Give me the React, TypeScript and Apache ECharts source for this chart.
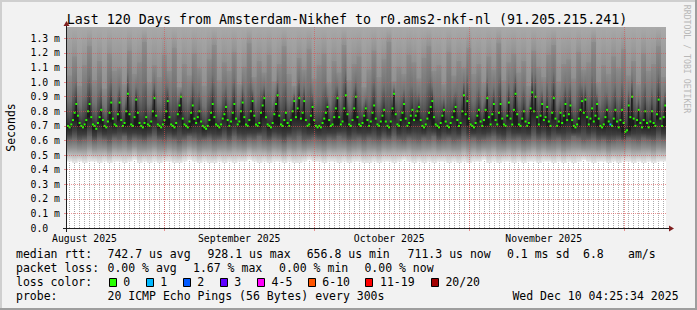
import React, { useEffect, useRef } from "react";
import * as echarts from "echarts";

const MONO = '"DejaVu Sans Mono", "Liberation Mono", monospace';

const titleText = "Last 120 Days from Amsterdam-Nikhef to r0.ams2-nkf-nl (91.205.215.241)";
const spanDays = 120;
const colsPerDay = 3; // 8h columns
const yMaxMs = 1.378;

// median rtt (ms), one value per 8h column (360 columns)
const medianMs = [
  0.70,0.69,0.71,0.74,0.79,0.85,0.77,0.72,0.70,0.69, 0.71,0.74,0.80,0.85,0.76,0.71,0.70,0.68,0.72,0.76, 0.81,0.74,0.70,0.69,0.73,0.79,0.86,0.75,0.71,0.70,
  0.78,0.86,0.74,0.70,0.72,0.80,0.92,0.78,0.71,0.70, 0.76,0.88,0.79,0.72,0.70,0.69,0.72,0.76,0.71,0.70, 0.73,0.80,0.89,0.77,0.71,0.70,0.69,0.71,0.74,0.80,
  0.87,0.76,0.71,0.70,0.69,0.72,0.78,0.84,0.90,0.75, 0.71,0.70,0.69,0.73,0.79,0.84,0.75,0.72,0.76,0.80, 0.73,0.70,0.69,0.68,0.70,0.74,0.79,0.85,0.76,0.71,
  0.70,0.69,0.71,0.75,0.78,0.83,0.74,0.70,0.73,0.79, 0.85,0.75,0.71,0.73,0.80,0.86,0.76,0.71,0.70,0.74, 0.80,0.87,0.77,0.71,0.70,0.72,0.79,0.84,0.89,0.76,
  0.71,0.70,0.69,0.72,0.78,0.85,0.91,0.77,0.71,0.70, 0.74,0.79,0.72,0.70,0.74,0.80,0.87,0.76,0.82,0.89, 0.75,0.79,0.87,0.74,0.70,0.71,0.77,0.83,0.74,0.70,
  0.69,0.70,0.69,0.72,0.75,0.79,0.83,0.74,0.70,0.71, 0.76,0.82,0.89,0.76,0.71,0.73,0.82,0.91,0.78,0.71, 0.70,0.74,0.82,0.90,0.76,0.71,0.70,0.72,0.77,0.82,
  0.74,0.70,0.73,0.79,0.84,0.75,0.71,0.70,0.73,0.77, 0.81,0.73,0.70,0.69,0.73,0.82,0.92,0.78,0.71,0.70, 0.74,0.79,0.85,0.75,0.70,0.72,0.77,0.81,0.74,0.77,
  0.80,0.83,0.74,0.70,0.69,0.71,0.75,0.79,0.83,0.87, 0.76,0.71,0.70,0.69,0.72,0.77,0.81,0.73,0.70,0.69, 0.72,0.76,0.80,0.83,0.74,0.70,0.72,0.80,0.91,0.78,
  0.87,0.75,0.71,0.70,0.69,0.72,0.77,0.81,0.73,0.70, 0.74,0.81,0.89,0.76,0.71,0.78,0.85,0.74,0.71,0.79, 0.85,0.75,0.71,0.70,0.77,0.86,0.75,0.71,0.81,0.92,
  0.78,0.71,0.70,0.75,0.80,0.73,0.70,0.72,0.82,0.93, 0.80,0.90,0.76,0.71,0.77,0.85,0.74,0.76,0.83,0.73, 0.70,0.79,0.89,0.75,0.70,0.73,0.79,0.72,0.77,0.85,
  0.74,0.78,0.84,0.74,0.70,0.69,0.71,0.75,0.81,0.87, 0.79,0.88,0.76,0.71,0.75,0.82,0.73,0.77,0.85,0.75, 0.70,0.69,0.71,0.76,0.81,0.73,0.71,0.70,0.75,0.81,
  0.73,0.69,0.74,0.81,0.72,0.66,0.67,0.84,0.76,0.90, 0.75,0.70,0.74,0.81,0.72,0.69,0.74,0.80,0.72,0.69, 0.73,0.80,0.72,0.70,0.78,0.88,0.75,0.70,0.76,0.84,
];

// smoke: per day, fastest ping (bottom of smoke), lower quartile, upper spread (ms)
const smokeMinMs = [
  0.46,0.45,0.46,0.45,0.46,0.46,0.45,0.46,0.45,0.46, 0.46,0.45,0.46,0.47,0.45,0.46,0.45,0.46,0.45,0.46,
  0.46,0.45,0.45,0.46,0.47,0.46,0.45,0.46,0.45,0.45, 0.46,0.45,0.46,0.45,0.46,0.46,0.47,0.46,0.45,0.46,
  0.45,0.46,0.46,0.45,0.46,0.45,0.45,0.46,0.47,0.46, 0.46,0.45,0.46,0.46,0.45,0.46,0.45,0.46,0.46,0.45,
  0.45,0.46,0.45,0.46,0.46,0.45,0.46,0.47,0.46,0.45, 0.46,0.45,0.46,0.45,0.46,0.46,0.45,0.46,0.45,0.46,
  0.45,0.46,0.46,0.47,0.45,0.46,0.45,0.46,0.46,0.45, 0.46,0.45,0.46,0.46,0.45,0.46,0.46,0.45,0.46,0.45,
  0.46,0.45,0.46,0.47,0.46,0.45,0.46,0.46,0.45,0.46, 0.45,0.46,0.46,0.45,0.46,0.45,0.46,0.45,0.46,0.46,
];
const smokeLowerMs = [
  0.61,0.62,0.60,0.61,0.63,0.60,0.62,0.61,0.59,0.62, 0.61,0.63,0.60,0.62,0.61,0.60,0.62,0.63,0.61,0.60,
  0.62,0.61,0.59,0.61,0.63,0.62,0.60,0.61,0.62,0.60, 0.61,0.62,0.60,0.63,0.61,0.60,0.62,0.61,0.63,0.61,
  0.60,0.62,0.61,0.59,0.62,0.61,0.63,0.60,0.61,0.62, 0.61,0.60,0.62,0.61,0.63,0.62,0.60,0.61,0.62,0.60,
  0.62,0.61,0.60,0.62,0.61,0.63,0.61,0.60,0.62,0.61, 0.60,0.62,0.61,0.63,0.60,0.61,0.62,0.60,0.61,0.63,
  0.61,0.62,0.60,0.61,0.62,0.63,0.61,0.60,0.62,0.61, 0.62,0.60,0.61,0.63,0.61,0.62,0.60,0.61,0.62,0.60,
  0.61,0.63,0.62,0.60,0.61,0.62,0.60,0.61,0.59,0.60, 0.61,0.60,0.62,0.61,0.60,0.62,0.61,0.60,0.62,0.61,
];
const smokeUpperMs = [
  1.05,1.18,0.98,1.12,1.25,1.02,1.15,0.96,1.20,1.08, 1.10,0.99,1.22,1.06,1.14,1.28,1.00,1.12,1.04,1.19,
  1.08,1.24,0.97,1.13,1.05,1.20,1.10,0.98,1.16,1.26, 1.02,1.14,1.08,1.21,0.99,1.11,1.27,1.04,1.15,1.07,
  1.19,1.01,1.13,1.25,1.06,0.98,1.17,1.09,1.23,1.03, 1.12,1.20,1.00,1.15,1.07,1.26,1.02,1.13,1.18,0.97,
  1.09,1.22,1.04,1.16,1.28,1.01,1.11,1.06,1.19,1.14, 1.03,1.17,1.25,1.08,1.12,0.99,1.21,1.05,1.15,1.10,
  1.24,1.06,1.13,1.00,1.18,1.09,1.27,1.02,1.14,1.20, 1.07,1.15,0.98,1.22,1.11,1.04,1.19,1.26,1.01,1.13,
  1.16,1.03,1.21,1.09,1.14,1.28,1.00,1.12,1.06,1.18, 1.10,1.23,1.05,1.15,0.99,1.20,1.08,1.13,1.25,1.04,
];

// [column index, lost pings]
const lossEvents: [number, number][] = [[326, 1]];

const lossLabels = ["0", "1", "2", "3", "4-5", "6-10", "11-19", "20/20"];
const lossColors = ["#26ff00", "#00b8ff", "#0059ff", "#5e00ff", "#ff00fb", "#ff5500", "#ff0000", "#a10000"];
const lossUpper = [0, 1, 2, 3, 5, 10, 19, 20];

// x axis (days since graph start)
const firstMidnightDay = 0.5;
const monthGridDays = [19.5, 49.55, 80.5, 111.6];
const monthLabelDays = [3.5, 34.5, 64.55, 95.5];
const monthLabels = ["August 2025", "September 2025", "October 2025", "November 2025"];

const medianStats = ["742.7 us avg", "928.1 us max", "656.8 us min", "711.3 us now", "0.1 ms sd", "6.8", "am/s"];
const lossStats = ["0.00 % avg", "1.67 % max", "0.00 % min", "0.00 % now"];
const probeText = "20 ICMP Echo Pings (56 Bytes) every 300s";
const stampText = "Wed Dec 10 04:25:34 2025";

function lossColorFor(n: number) {
  for (let k = 0; k < lossUpper.length; k++) if (n <= lossUpper[k]) return lossColors[k];
  return lossColors[lossColors.length - 1];
}

function buildRows() {
  const rows: number[][] = [];
  const colDays = 1 / colsPerDay;
  for (let i = 0; i < medianMs.length; i++) {
    const d = Math.floor(i / colsPerDay);
    const dayMeds = medianMs.slice(d * colsPerDay, d * colsPerDay + colsPerDay);
    const base = Math.min(...dayMeds);
    const ev = lossEvents.find((e) => e[0] === i);
    rows.push([i * colDays, (i + 1) * colDays, smokeMinMs[d], smokeLowerMs[d], base, medianMs[i], smokeUpperMs[d], ev ? ev[1] : 0]);
  }
  return rows;
}

export default function App() {
  const ref = useRef<HTMLDivElement>(null);
  useEffect(() => {
    if (!ref.current) return;
    const chart = echarts.init(ref.current, null, { renderer: "svg" });
    const LG = echarts.graphic.LinearGradient;
    const gLow = new LG(0, 0, 0, 1, [
      { offset: 0, color: "#666666" },
      { offset: 0.4, color: "#909090" },
      { offset: 0.72, color: "#bebebe" },
      { offset: 1, color: "#eaeaea" },
    ]);
    const gMid = new LG(0, 0, 0, 1, [
      { offset: 0, color: "#242424" },
      { offset: 0.55, color: "#3d3d3d" },
      { offset: 1, color: "#666666" },
    ]);
    const gUp = new LG(0, 0, 0, 1, [
      { offset: 0, color: "#8c8c8c" },
      { offset: 0.5, color: "#737373" },
      { offset: 0.82, color: "#4b4b4b" },
      { offset: 1, color: "#2b2b2b" },
    ]);
    const gTop = new LG(0, 0, 0, 1, [
      { offset: 0, color: "#a9a9a9" },
      { offset: 1, color: "#919191" },
    ]);

    const rows = buildRows();
    const minorDays: number[] = [];
    for (let t = firstMidnightDay; t < spanDays; t += 1) minorDays.push(t);

    const gridColor = "rgba(222,79,79,0.6)";
    const minorColor = "rgba(143,143,143,0.75)";

    const smokeRender = (params: any, api: any) => {
      const x0 = api.coord([api.value(0), 0])[0];
      const x1 = api.coord([api.value(1), 0])[0];
      const w = x1 - x0 + 0.8;
      const Y = (v: number) => api.coord([0, v])[1];
      const lo = api.value(2), q1 = api.value(3), base = api.value(4), med = api.value(5), hi = api.value(6);
      const kids: any[] = [];
      const band = (v0: number, v1: number, fill: any) => {
        const ya = Y(v1), yb = Y(v0);
        if (yb - ya <= 0.05) return;
        kids.push({ type: "rect", silent: true, shape: { x: x0, y: ya, width: w, height: yb - ya + 0.6 }, style: { fill } });
      };
      band(lo, q1, gLow);
      band(q1, base, gMid);
      if (med > base + 0.004) band(base, med, "#1c1c1c");
      band(med, hi, gUp);
      band(hi, yMaxMs, gTop);
      return { type: "group", children: kids };
    };

    const medianRender = (params: any, api: any) => {
      const x0 = api.coord([api.value(0), 0])[0];
      const x1 = api.coord([api.value(1), 0])[0];
      const y = api.coord([0, api.value(5)])[1];
      return {
        type: "rect",
        silent: true,
        shape: { x: x0, y: y - 1, width: x1 - x0 + 0.3, height: 2 },
        style: { fill: lossColorFor(api.value(7)) },
      };
    };

    const txt = (text: string, x: number, y: number, size: number, extra: any = {}) => ({
      type: "text",
      z: 20,
      silent: true,
      x,
      y,
      ...extra,
      style: {
        text,
        fontFamily: MONO,
        fontSize: size,
        fill: extra.fill || "#000000",
        align: extra.align || "left",
        textAlign: extra.align || "left",
        verticalAlign: "middle",
        textVerticalAlign: "middle",
      },
    });

    const graphics: any[] = [];
    // frame
    graphics.push({ type: "rect", z: 20, silent: true, shape: { x: 0, y: 0, width: 697, height: 2 }, style: { fill: "#cfcfcf" } });
    graphics.push({ type: "rect", z: 20, silent: true, shape: { x: 0, y: 0, width: 2, height: 310 }, style: { fill: "#cfcfcf" } });
    graphics.push({ type: "rect", z: 20, silent: true, shape: { x: 0, y: 308, width: 697, height: 2 }, style: { fill: "#9e9e9e" } });
    graphics.push({ type: "rect", z: 20, silent: true, shape: { x: 695, y: 0, width: 2, height: 310 }, style: { fill: "#9e9e9e" } });
    // title, axis name, watermark
    graphics.push(txt(titleText, 347, 19, 13.3, { align: "center" }));
    graphics.push(txt("Seconds", 10.5, 127.5, 11.5, { align: "center", rotation: Math.PI / 2 }));
    graphics.push(txt("RRDTOOL / TOBI OETIKER", 686.5, 59, 8.2, { align: "center", rotation: -Math.PI / 2, fill: "#b8b8b8" }));
    // axes lines + arrows
    graphics.push({ type: "line", z: 20, silent: true, shape: { x1: 63, y1: 228.5, x2: 669.5, y2: 228.5 }, style: { stroke: "#1f1f1f", lineWidth: 1 } });
    graphics.push({ type: "line", z: 20, silent: true, shape: { x1: 66.5, y1: 232, x2: 66.5, y2: 25 }, style: { stroke: "#1f1f1f", lineWidth: 1 } });
    graphics.push({ type: "polygon", z: 21, silent: true, shape: { points: [[669, 225.5], [674, 228.5], [669, 231.5]] }, style: { fill: "#7f1f1f" } });
    graphics.push({ type: "polygon", z: 21, silent: true, shape: { points: [[63.5, 26], [66.5, 21], [69.5, 26]] }, style: { fill: "#7f1f1f" } });

    // legend rows
    const r1 = 254.3, r2 = 268.3, r3 = 282.3, r4 = 296.3;
    graphics.push(txt("median rtt:", 16, r1, 11.5));
    const medX = [107.5, 207.5, 306.7, 407.6, 507, 583, 628];
    medianStats.forEach((s, k) => graphics.push(txt(s, medX[k], r1, 11.5)));
    graphics.push(txt("packet loss:", 16, r2, 11.5));
    const lossX = [107.5, 193, 279, 364.4];
    lossStats.forEach((s, k) => graphics.push(txt(s, lossX[k], r2, 11.5)));
    graphics.push(txt("loss color:", 16, r3, 11.5));
    const boxX = [108.5, 145.5, 182.5, 219.5, 256.9, 307.6, 365.3, 430.7];
    lossLabels.forEach((s, k) => {
      graphics.push({ type: "rect", z: 20, silent: true, shape: { x: Math.round(boxX[k]) + 0.5, y: 278.5, width: 7, height: 8 }, style: { fill: lossColors[k], stroke: "#000000", lineWidth: 1 } });
      graphics.push(txt(s, boxX[k] + 14.7, r3, 11.5));
    });
    graphics.push(txt("probe:", 16, r4, 11.5));
    graphics.push(txt(probeText, 107.5, r4, 11.5));
    graphics.push(txt(stampText, 512.4, r4, 11.5));

    const option: any = {
      animation: false,
      backgroundColor: "#f2f2f2",
      grid: { left: 67, top: 27, width: 599, height: 201, show: true, backgroundColor: "#ffffff", borderWidth: 0, containLabel: false },
      xAxis: [
        {
          type: "value",
          min: 0,
          max: spanDays,
          interval: 1,
          position: "bottom",
          axisLine: { show: false },
          axisTick: { show: false, customValues: minorDays },
          axisLabel: { show: false },
          splitLine: { show: true, lineStyle: { color: minorColor, type: [1, 1], width: 1 } },
        },
        {
          type: "value",
          min: 0,
          max: spanDays,
          position: "bottom",
          z: 6,
          axisLine: { show: false },
          axisTick: { show: true, customValues: monthGridDays, length: 3, lineStyle: { color: gridColor } },
          axisLabel: {
            show: true,
            customValues: monthLabelDays,
            margin: 5,
            fontFamily: MONO,
            fontSize: 9.8,
            color: "#000000",
            formatter: (v: number) => {
              let best = 0;
              monthLabelDays.forEach((d, k) => { if (Math.abs(d - v) < Math.abs(monthLabelDays[best] - v)) best = k; });
              return monthLabels[best];
            },
          },
          splitLine: { show: true, lineStyle: { color: gridColor, type: [1, 1], width: 1 } },
        },
      ],
      yAxis: {
        type: "value",
        min: 0,
        max: yMaxMs,
        interval: 0.1,
        z: 6,
        axisLine: { show: false },
        axisTick: { show: true, length: 3, lineStyle: { color: gridColor } },
        axisLabel: {
          show: true,
          align: "left",
          margin: 36.5,
          fontFamily: MONO,
          fontSize: 9.8,
          color: "#000000",
          showMaxLabel: false,
          formatter: (v: number) => (v < 1e-9 ? "0.0" : v > 1.35 ? "" : v.toFixed(1) + " m"),
        },
        splitLine: { show: true, showMinLine: false, showMaxLine: false, lineStyle: { color: gridColor, type: [1, 1], width: 1 } },
      },
      series: [
        { type: "custom", name: "smoke", xAxisIndex: 0, yAxisIndex: 0, z: 2, clip: true, silent: true, renderItem: smokeRender, data: rows },
        { type: "custom", name: "median", xAxisIndex: 0, yAxisIndex: 0, z: 3, clip: true, silent: true, renderItem: medianRender, data: rows },
      ],
      graphic: graphics,
    };
    chart.setOption(option);
    return () => chart.dispose();
  }, []);
  return <div ref={ref} style={{ position: "absolute", left: 0, top: 0, width: 697, height: 310 }} />;
}
